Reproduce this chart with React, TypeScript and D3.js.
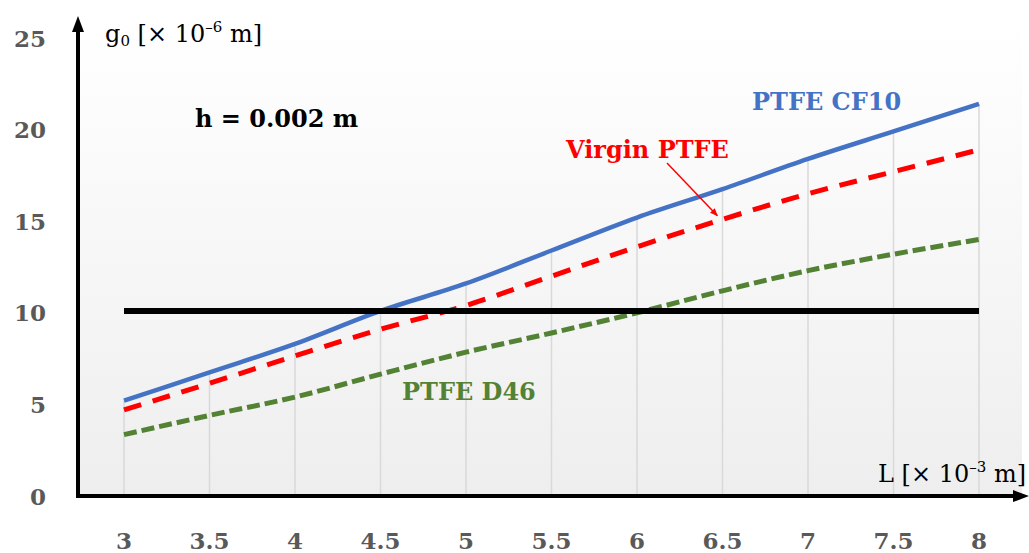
import React from "react";
import * as d3 from "d3";

const L = [3, 3.5, 4, 4.5, 5, 5.5, 6, 6.5, 7, 7.5, 8];
const cf10 = [5.2, 6.75, 8.3, 10.1, 11.6, 13.4, 15.2, 16.75, 18.4, 19.9, 21.4];
const virgin = [4.7, 6.15, 7.65, 9.1, 10.4, 12.0, 13.6, 15.1, 16.5, 17.7, 18.9];
const d46 = [3.35, 4.4, 5.4, 6.65, 7.85, 8.9, 10.0, 11.2, 12.3, 13.2, 14.0];
const limitL = [3, 8];
const limitV = [10.1, 10.1];
const yTicks = [0, 5, 10, 15, 20, 25];
const xTicks = ["3", "3.5", "4", "4.5", "5", "5.5", "6", "6.5", "7", "7.5", "8"];

const W = 1029;
const H = 553;
const FONT = "'DejaVu Serif', 'Liberation Serif', serif";

export default function App() {
  const x = d3.scaleLinear().domain([3, 8]).range([124, 979]);
  const y = d3.scaleLinear().domain([0, 25]).range([496, 38]);
  const line = d3
    .line<[number, number]>()
    .x((d) => x(d[0]))
    .y((d) => y(d[1]))
    .curve(d3.curveMonotoneX);
  const pts = (vals: number[]) => L.map((l, i) => [l, vals[i]] as [number, number]);
  const limitPts = limitL.map((l, i) => [l, limitV[i]] as [number, number]);

  return (
    <svg
      width={W}
      height={H}
      style={{ position: "absolute", left: 0, top: 0, background: "#fff" }}
      fontFamily={FONT}
    >
      <defs>
        <linearGradient id="bg" x1="0" y1="0" x2="0" y2="1">
          <stop offset="0" stopColor="#ffffff" />
          <stop offset="1" stopColor="#eeeeee" />
        </linearGradient>
        <marker id="arr" viewBox="0 0 10 10" refX="9" refY="5" markerWidth="8" markerHeight="8" orient="auto" markerUnits="userSpaceOnUse">
          <path d="M0,1 L10,5 L0,9 z" fill="#ff0000" />
        </marker>
      </defs>
      <rect x={78} y={20} width={944} height={476} fill="url(#bg)" />

      {/* drop lines */}
      {L.map((l, i) => (
        <line key={"g" + i} x1={x(l)} x2={x(l)} y1={y(cf10[i])} y2={y(0)} stroke="#d9d9d9" strokeWidth={1.5} />
      ))}

      {/* series */}
      <path d={line(pts(d46)) || ""} fill="none" stroke="#548235" strokeWidth={5} strokeDasharray="13 5" />
      <path d={line(pts(virgin)) || ""} fill="none" stroke="#ff0000" strokeWidth={5} strokeDasharray="18 12" />
      <path d={line(pts(cf10)) || ""} fill="none" stroke="#4472c4" strokeWidth={4.5} strokeLinejoin="round" />
      <path d={line(limitPts) || ""} fill="none" stroke="#000" strokeWidth={6} />

      {/* axes */}
      <line x1={78} x2={78} y1={498} y2={28} stroke="#000" strokeWidth={4} />
      <path d="M78,16 L84,32 L72,32 Z" fill="#000" />
      <line x1={76} x2={1016} y1={496} y2={496} stroke="#000" strokeWidth={4} />
      <path d="M1029,496 L1013,490 L1013,502 Z" fill="#000" />

      {/* tick labels */}
      {yTicks.map((t) => (
        <text key={"y" + t} x={46} y={y(t)} textAnchor="end" dominantBaseline="central" fontSize={23} fontWeight="bold" fill="#595959">
          {t}
        </text>
      ))}
      {xTicks.map((t, i) => (
        <text key={"x" + t} x={x(L[i])} y={549} textAnchor="middle" fontSize={23} fontWeight="bold" fill="#595959">
          {t}
        </text>
      ))}

      {/* axis titles */}
      <text x={105} y={42} fontSize={24} fill="#000">
        g<tspan fontSize={15} dy={4}>0</tspan>
        <tspan dy={-4}> [× 10</tspan>
        <tspan fontSize={15} dy={-10}>–6</tspan>
        <tspan dy={10}> m]</tspan>
      </text>
      <text x={1026} y={482} textAnchor="end" fontSize={24} fill="#000">
        L [× 10<tspan fontSize={15} dy={-10}>–3</tspan>
        <tspan dy={10}> m]</tspan>
      </text>

      {/* annotations */}
      <text x={195} y={127} fontSize={24} fontWeight="bold" fill="#000">h = 0.002 m</text>
      <text x={752} y={110} fontSize={24} fontWeight="bold" fill="#4472c4">PTFE CF10</text>
      <text x={566} y={158} fontSize={24} fontWeight="bold" fill="#ff0000">Virgin PTFE</text>
      <text x={402} y={400} fontSize={24} fontWeight="bold" fill="#548235">PTFE D46</text>
      <line x1={667} y1={163} x2={x(6.47)} y2={y(15.3)} stroke="#ff0000" strokeWidth={1.5} markerEnd="url(#arr)" />
    </svg>
  );
}
